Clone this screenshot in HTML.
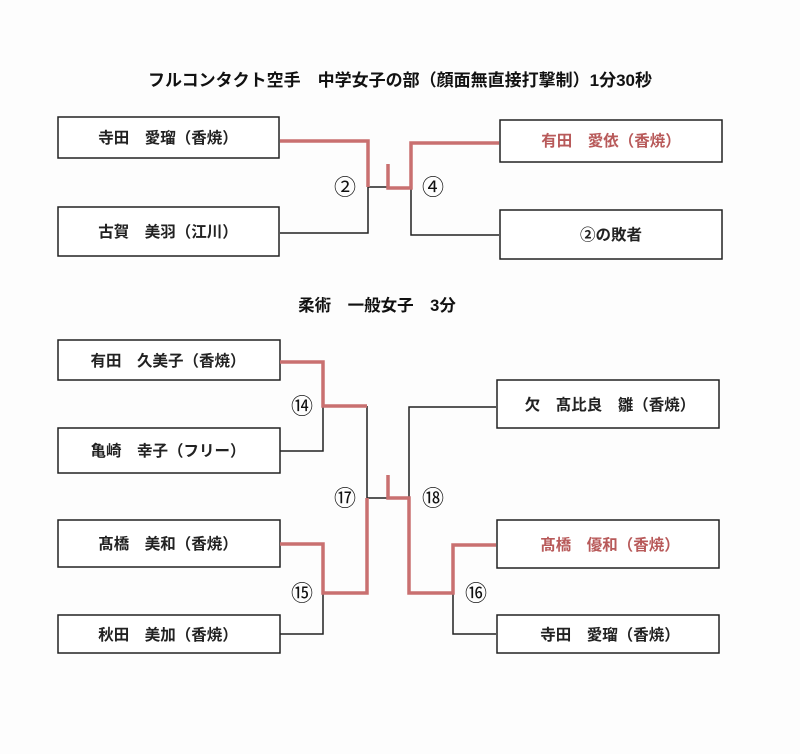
<!DOCTYPE html>
<html><head><meta charset="utf-8"><style>
html,body{margin:0;padding:0;background:#fff;}
svg{display:block}
text{font-family:"Liberation Sans","Noto Sans CJK JP",sans-serif;}
</style></head><body>
<svg width="800" height="754" viewBox="0 0 800 754" xmlns="http://www.w3.org/2000/svg">
<rect width="800" height="754" fill="#fdfdfd"/>
<text x="400" y="86" font-size="17" font-weight="bold" text-anchor="middle" fill="#111">フルコンタクト空手　中学女子の部（顔面無直接打撃制）1分30秒</text>
<g fill="#fff" stroke="#222" stroke-width="1.5">
<rect x="58" y="117" width="221" height="41"/>
<rect x="58" y="207" width="221" height="49"/>
<rect x="500" y="120" width="222" height="42"/>
<rect x="500" y="210" width="222" height="49"/>
<rect x="58" y="340" width="222" height="40"/>
<rect x="58" y="428" width="222" height="45"/>
<rect x="58" y="520" width="222" height="47"/>
<rect x="58" y="615" width="222" height="38"/>
<rect x="497" y="380" width="222" height="48"/>
<rect x="497" y="520" width="222" height="48"/>
<rect x="497" y="615" width="222" height="38"/>
</g>
<g font-size="15.5" font-weight="bold" text-anchor="middle" fill="#222">
<text x="168" y="143">寺田　愛瑠（香焼）</text>
<text x="168" y="237">古賀　美羽（江川）</text>
<text x="611" y="146" fill="#b85a5a">有田　愛依（香焼）</text>
<text x="611" y="240">②の敗者</text>
<text x="168" y="366">有田　久美子（香焼）</text>
<text x="168" y="456">亀崎　幸子（フリー）</text>
<text x="168" y="549">髙橋　美和（香焼）</text>
<text x="168" y="640">秋田　美加（香焼）</text>
<text x="610" y="410">欠　髙比良　雛（香焼）</text>
<text x="610" y="550" fill="#b85a5a">髙橋　優和（香焼）</text>
<text x="610" y="640">寺田　愛瑠（香焼）</text>
</g>
<text x="377" y="311" font-size="16.5" font-weight="bold" text-anchor="middle" fill="#111">柔術　一般女子　3分</text>
<g fill="none" stroke="#222" stroke-width="1.5">
<polyline points="280,233 368,233 368,187 388,187"/>
<polyline points="411,188 411,235 499,235"/>
<polyline points="280,451 323,451 323,406"/>
<polyline points="280,634 323,634 323,593"/>
<polyline points="367,406 367,498 388,498"/>
<polyline points="496,407 409,407 409,498"/>
<polyline points="453,593 453,634 496,634"/>
</g>
<g fill="none" stroke="#c97070" stroke-width="3.5" stroke-linejoin="miter">
<polyline points="280,141 368,141 368,187"/>
<polyline points="388,164 388,188 411,188 411,143 499,143"/>
<polyline points="280,362 323,362 323,406 367,406"/>
<polyline points="280,544 323,544 323,593 367,593 367,498"/>
<polyline points="388,475 388,498 409,498 409,593 453,593 453,545 496,545"/>
</g>
<g font-size="22" text-anchor="middle" fill="#111">
<text x="345" y="195">②</text>
<text x="433" y="195">④</text>
<text x="302" y="414">⑭</text>
<text x="345" y="506">⑰</text>
<text x="433" y="506">⑱</text>
<text x="302" y="601">⑮</text>
<text x="476" y="601">⑯</text>
</g>
</svg>
</body></html>
